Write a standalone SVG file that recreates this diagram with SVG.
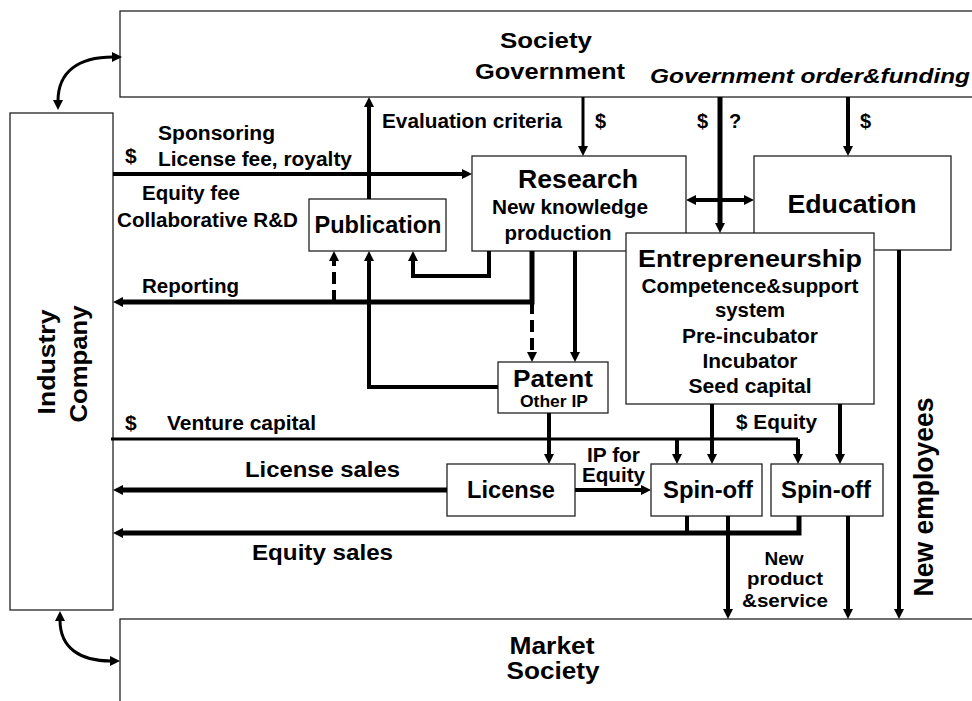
<svg xmlns="http://www.w3.org/2000/svg" width="972" height="701" viewBox="0 0 972 701">
  <defs>
    <marker id="head" viewBox="0 0 10 10" refX="1" refY="5" markerWidth="10" markerHeight="10" markerUnits="userSpaceOnUse" orient="auto-start-reverse">
      <path d="M0,0 L10,5 L0,10 z" fill="#000"/>
    </marker>
    <style>
      .box { fill: #fff; stroke: #222; stroke-width: 1.3; }
      text { font-family: "Liberation Sans", Arial, sans-serif; font-weight: bold; fill: #000; }
      .mid { text-anchor: middle; }
      .ln { fill: none; stroke: #000; stroke-width: 4; stroke-linejoin: miter; }
      .arr { marker-end: url(#head); }
      .both { marker-start: url(#head); marker-end: url(#head); }
      .dash { stroke-dasharray: 12 6; }
      .thin { stroke-width: 3; }
      .thick { stroke-width: 5; }
    </style>
  </defs>
  <rect width="972" height="701" fill="#fff"/>

  <!-- Society / Government -->
  <g id="government">
    <rect class="box" x="120" y="11" width="870" height="86"/>
    <text class="mid" x="546" y="48" font-size="22" textLength="92" lengthAdjust="spacingAndGlyphs">Society</text>
    <text class="mid" x="550" y="79" font-size="22" textLength="150" lengthAdjust="spacingAndGlyphs">Government</text>
  </g>

  <!-- Industry / Company -->
  <g id="industry">
    <rect class="box" x="10" y="113" width="103" height="497"/>
    <text class="mid" transform="translate(55,362) rotate(-90)" font-size="24" textLength="105" lengthAdjust="spacingAndGlyphs">Industry</text>
    <text class="mid" transform="translate(87,364) rotate(-90)" font-size="24" textLength="117" lengthAdjust="spacingAndGlyphs">Company</text>
  </g>

  <!-- Market / Society -->
  <g id="market">
    <rect class="box" x="120" y="619" width="870" height="100"/>
    <text class="mid" x="552" y="654" font-size="23" textLength="85" lengthAdjust="spacingAndGlyphs">Market</text>
    <text class="mid" x="553" y="679" font-size="23" textLength="93" lengthAdjust="spacingAndGlyphs">Society</text>
  </g>

  <g id="research">
    <rect class="box" x="472" y="156" width="214" height="95"/>
    <text class="mid" x="578" y="188" font-size="25" textLength="120" lengthAdjust="spacingAndGlyphs">Research</text>
    <text class="mid" x="570" y="214" font-size="20" textLength="156" lengthAdjust="spacingAndGlyphs">New knowledge</text>
    <text class="mid" x="558" y="240" font-size="20" textLength="107" lengthAdjust="spacingAndGlyphs">production</text>
  </g>

  <g id="education">
    <rect class="box" x="754" y="156" width="197" height="94"/>
    <text class="mid" x="852" y="213" font-size="25" textLength="129" lengthAdjust="spacingAndGlyphs">Education</text>
  </g>

  <g id="entrepreneurship">
    <rect class="box" x="626" y="233" width="248" height="171"/>
    <text class="mid" x="750" y="267" font-size="24" textLength="224" lengthAdjust="spacingAndGlyphs">Entrepreneurship</text>
    <text class="mid" x="750" y="293" font-size="20" textLength="217" lengthAdjust="spacingAndGlyphs">Competence&amp;support</text>
    <text class="mid" x="750" y="317" font-size="20" textLength="70" lengthAdjust="spacingAndGlyphs">system</text>
    <text class="mid" x="750" y="343" font-size="20" textLength="136" lengthAdjust="spacingAndGlyphs">Pre-incubator</text>
    <text class="mid" x="750" y="368" font-size="20" textLength="95" lengthAdjust="spacingAndGlyphs">Incubator</text>
    <text class="mid" x="750" y="393" font-size="20" textLength="123" lengthAdjust="spacingAndGlyphs">Seed capital</text>
  </g>

  <g id="publication">
    <rect class="box" x="309" y="199" width="137" height="52"/>
    <text class="mid" x="378" y="233" font-size="23" textLength="127" lengthAdjust="spacingAndGlyphs">Publication</text>
  </g>

  <g id="patent">
    <rect class="box" x="498" y="362" width="110" height="51"/>
    <text class="mid" x="553" y="387" font-size="23" textLength="80" lengthAdjust="spacingAndGlyphs">Patent</text>
    <text class="mid" x="554" y="407" font-size="17" textLength="68" lengthAdjust="spacingAndGlyphs">Other IP</text>
  </g>

  <g id="license">
    <rect class="box" x="447" y="464" width="128" height="52"/>
    <text class="mid" x="511" y="498" font-size="23" textLength="88" lengthAdjust="spacingAndGlyphs">License</text>
  </g>

  <g id="spinoff-1">
    <rect class="box" x="651" y="464" width="111" height="52"/>
    <text class="mid" x="708" y="498" font-size="23" textLength="90" lengthAdjust="spacingAndGlyphs">Spin-off</text>
  </g>

  <g id="spinoff-2">
    <rect class="box" x="771" y="464" width="112" height="52"/>
    <text class="mid" x="826" y="498" font-size="23" textLength="90" lengthAdjust="spacingAndGlyphs">Spin-off</text>
  </g>

  <!-- connectors -->
  <g id="connectors">
    <!-- industry <-> government / market -->
    <path class="ln thin both" d="M58,101 C58,72 78,57 113,57"/>
    <path class="ln thin both" d="M60,620 C60,648 80,661 111,661"/>

    <!-- industry funding into research -->
    <path class="ln arr" d="M113,174 H463"/>
    <!-- publication to evaluation -->
    <path class="ln arr" d="M369,199 V106"/>
    <!-- government funding -->
    <path class="ln thin arr" d="M583,97 V147"/>
    <path class="ln thick arr" d="M720,97 V224"/>
    <path class="ln arr" d="M848,97 V147"/>
    <!-- research <-> education -->
    <path class="ln both" d="M695,200 H745"/>

    <!-- research outputs -->
    <path class="ln arr" d="M489,251 V276 H413 V260"/>
    <path class="ln thick arr" d="M532,251 V302 H122"/>
    <path class="ln dash arr" d="M334,302 V260"/>
    <path class="ln dash arr" d="M532,302 V353"/>
    <path class="ln arr" d="M575,251 V353"/>
    <path class="ln arr" d="M498,387 H369 V260"/>

    <!-- venture capital -->
    <path class="ln thin" d="M111,439 H798"/>
    <path class="ln arr" d="M798,439 V455"/>
    <path class="ln arr" d="M677,439 V455"/>

    <!-- into license / spin-offs -->
    <path class="ln arr" d="M549,413 V455"/>
    <path class="ln arr" d="M712,404 V455"/>
    <path class="ln arr" d="M840,404 V455"/>

    <!-- new employees -->
    <path class="ln arr" d="M899,250 V610"/>

    <!-- license sales / IP for equity -->
    <path class="ln thick arr" d="M447,490 H122"/>
    <path class="ln arr" d="M575,490 H642"/>

    <!-- equity sales -->
    <path class="ln thick arr" d="M799,516 V533 H122"/>
    <path class="ln" d="M687,516 V533"/>

    <!-- new product & service -->
    <path class="ln arr" d="M728,516 V610"/>
    <path class="ln arr" d="M848,516 V610"/>

    <!-- connector labels -->
    <text x="650" y="83" font-size="20" font-style="italic" textLength="320" lengthAdjust="spacingAndGlyphs">Government order&amp;funding</text>
    <text x="382" y="128" font-size="19.5" textLength="180" lengthAdjust="spacingAndGlyphs">Evaluation criteria</text>
    <text x="595" y="128" font-size="20">$</text>
    <text x="697" y="128" font-size="20">$</text>
    <text x="729" y="128" font-size="20">?</text>
    <text x="860" y="128" font-size="20">$</text>

    <text x="158" y="140" font-size="19.5" textLength="117" lengthAdjust="spacingAndGlyphs">Sponsoring</text>
    <text x="125" y="163" font-size="21">$</text>
    <text x="158" y="166" font-size="19.5" textLength="194" lengthAdjust="spacingAndGlyphs">License fee, royalty</text>
    <text x="142" y="200" font-size="19.5" textLength="98" lengthAdjust="spacingAndGlyphs">Equity fee</text>
    <text x="117" y="227" font-size="19.5" textLength="181" lengthAdjust="spacingAndGlyphs">Collaborative R&amp;D</text>

    <text x="142" y="293" font-size="19.5" textLength="97" lengthAdjust="spacingAndGlyphs">Reporting</text>

    <text x="125" y="430" font-size="21">$</text>
    <text x="167" y="430" font-size="19.5" textLength="149" lengthAdjust="spacingAndGlyphs">Venture capital</text>
    <text x="736" y="429" font-size="19.5" textLength="81" lengthAdjust="spacingAndGlyphs">$ Equity</text>

    <text x="587" y="462" font-size="19.5" textLength="53" lengthAdjust="spacingAndGlyphs">IP for</text>
    <text x="582" y="482" font-size="19.5" textLength="63" lengthAdjust="spacingAndGlyphs">Equity</text>

    <text x="245" y="477" font-size="22" textLength="155" lengthAdjust="spacingAndGlyphs">License sales</text>
    <text x="252" y="560" font-size="22" textLength="141" lengthAdjust="spacingAndGlyphs">Equity sales</text>

    <text class="mid" x="784" y="565" font-size="19">New</text>
    <text class="mid" x="785" y="585" font-size="19" textLength="76" lengthAdjust="spacingAndGlyphs">product</text>
    <text class="mid" x="785" y="607" font-size="19" textLength="86" lengthAdjust="spacingAndGlyphs">&amp;service</text>

    <text class="mid" transform="translate(933,497) rotate(-90)" font-size="27" textLength="199" lengthAdjust="spacingAndGlyphs">New employees</text>
  </g>
</svg>
